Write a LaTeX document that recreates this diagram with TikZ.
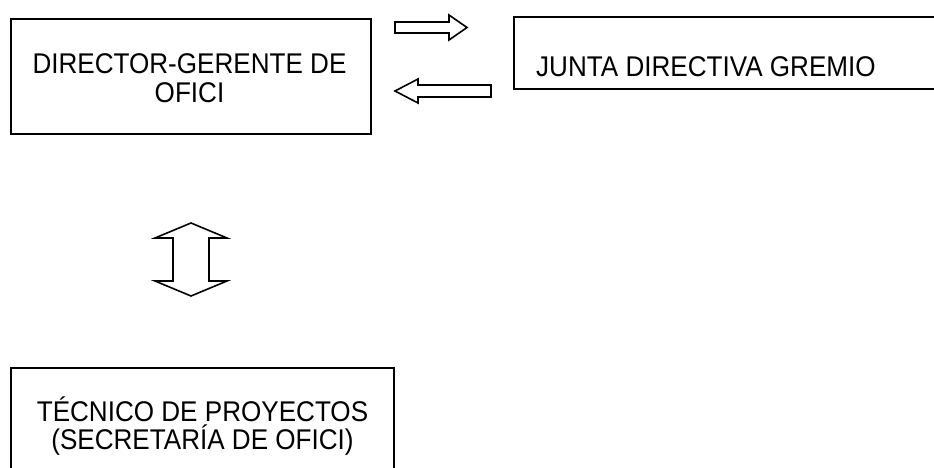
\documentclass[tikz,border=0pt]{standalone}
\usepackage{fontspec}
\setmainfont{Liberation Sans}[FakeStretch=0.915]
\begin{document}
\begin{tikzpicture}[x=1pt,y=-1pt,
  box/.style={draw=black,line width=2pt,inner sep=0pt,minimum width=#1},
  lbl/.style={inner sep=0pt,font=\fontsize{28.5}{30}\selectfont},
  blockarrow/.style={draw=black,line width=1.6pt,fill=white,line join=miter}]
\useasboundingbox (0,0) rectangle (934,468);
\clip (0,0) rectangle (934,468);
% boxes
\node[box=360pt,minimum height=115pt] (dir) at (191,76.5) {};
\node[box=436pt,minimum height=72pt] (junta) at (732,53.5) {};
\node[box=383pt,minimum height=112pt] (tec) at (202.5,424) {};
% texts
\node[lbl,anchor=base] (dir1) at (189.5,74) {DIRECTOR-GERENTE DE};
\node[lbl,anchor=base] (dir2) at (189.5,102.7) {OFICI};
\node[lbl,anchor=base west] (junta1) at (536,77) {JUNTA DIRECTIVA GREMIO};
\node[lbl,anchor=base] (tec1) at (202.5,421.7) {TÉCNICO DE PROYECTOS};
\node[lbl,anchor=base] (tec2) at (202.5,449.3) {(SECRETARÍA DE OFICI)};
% block arrows
\draw[blockarrow] (395,22) -- (449,22) -- (449,15) -- (467,27.5) -- (449,40) -- (449,33) -- (395,33) -- cycle;
\draw[blockarrow] (491,85) -- (418,85) -- (418,79) -- (395,91) -- (418,103) -- (418,97) -- (491,97) -- cycle;
\draw[blockarrow] (191,223) -- (227,238) -- (209,238) -- (209,281) -- (227,281) -- (191,296) -- (155,281) -- (173,281) -- (173,238) -- (155,238) -- cycle;
\end{tikzpicture}
\end{document}
